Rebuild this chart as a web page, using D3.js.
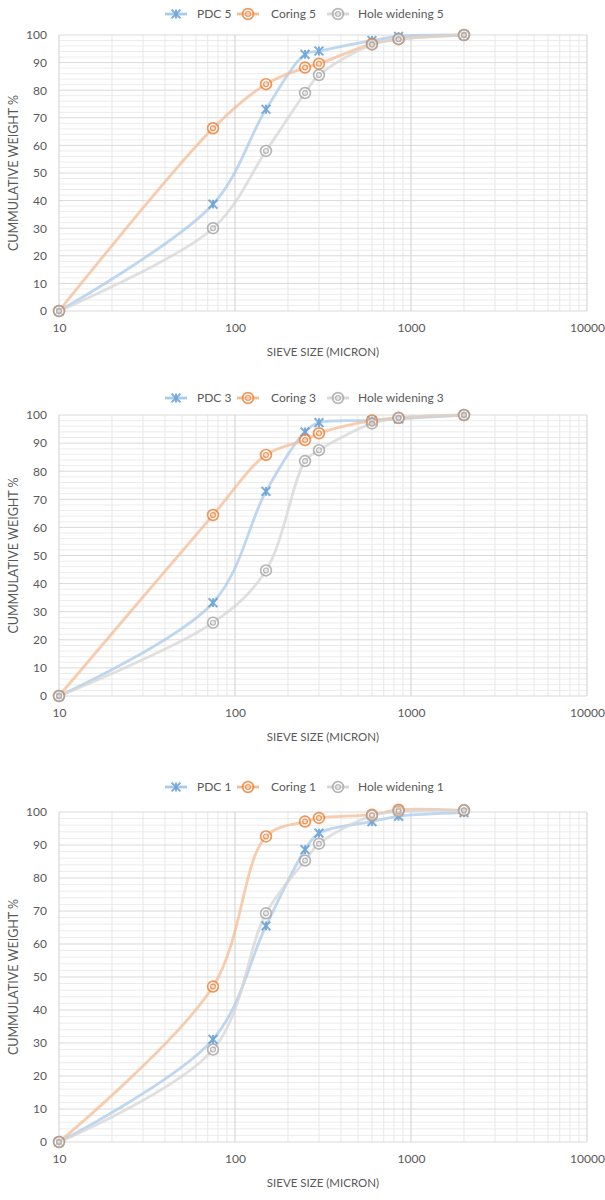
<!DOCTYPE html>
<html>
<head>
<meta charset="utf-8">
<script src="https://cdn.jsdelivr.net/npm/d3@7"></script>
<style>
  html, body { margin: 0; padding: 0; background: #ffffff; }
  svg { display: block; }
</style>
</head>
<body>
<svg id="chart" width="605" height="1200"></svg>
<script>
// ---- data ----
const sieveSizes = [10, 75, 150, 250, 300, 600, 850, 2000];
const xTickValues = [10, 100, 1000, 10000];
const yTickValues = [0, 10, 20, 30, 40, 50, 60, 70, 80, 90, 100];

const pdc5 = [0, 38.7, 73.1, 93.0, 94.2, 98.0, 99.5, 100];
const coring5 = [0, 66.2, 82.2, 88.2, 89.6, 96.8, 98.5, 100];
const hole5 = [0, 30.0, 58.0, 79.0, 85.5, 96.5, 98.5, 100];

const pdc3 = [0, 33.2, 72.8, 94.0, 97.3, 98.0, 98.6, 100];
const coring3 = [0, 64.4, 85.8, 91.1, 93.5, 98.0, 99.0, 100];
const hole3 = [0, 26.1, 44.7, 83.6, 87.5, 97.0, 98.9, 100];

const pdc1 = [0, 31.1, 65.5, 88.6, 93.6, 97.1, 98.7, 99.8];
const coring1 = [0, 47.1, 92.6, 97.1, 98.2, 99.2, 100.7, 100.5];
const hole1 = [0, 28.0, 69.3, 85.3, 90.4, 98.9, 100.2, 100.5];

const seriesNames = ["PDC", "Coring", "Hole widening"];
const xTitle = "SIEVE SIZE (MICRON)";
const yTitle = "CUMMULATIVE WEIGHT %";

// ---- layout ----
const charts = [
  { suffix: "5", values: [pdc5, coring5, hole5], legendY: 14, top: 35, bottom: 311 },
  { suffix: "3", values: [pdc3, coring3, hole3], legendY: 398, top: 415, bottom: 696 },
  { suffix: "1", values: [pdc1, coring1, hole1], legendY: 787, top: 812, bottom: 1142 }
];
const left = 59, right = 587;
const styles = [
  { line: "#a9cbea", marker: "#5b9bd5", type: "star" },
  { line: "#f6bc94", marker: "#ed7d31", type: "ring" },
  { line: "#d6d6d6", marker: "#a5a5a5", type: "ring" }
];
const font = "Lato, 'Open Sans', sans-serif";
const textColor = "#595959";

const svg = d3.select("#chart");

function drawMarker(g, type, color, cx, cy) {
  const m = g.append("g").attr("transform", `translate(${cx},${cy})`);
  if (type === "star") {
    const s = 4.4;
    m.append("path")
      .attr("d", `M${-s},${-s}L${s},${s}M${-s},${s}L${s},${-s}M0,${-s}L0,${s}`)
      .attr("stroke", color).attr("stroke-width", 2).attr("fill", "none")
      .attr("opacity", 0.8);
  } else {
    m.append("circle").attr("r", 5.4).attr("fill", "#fff").attr("fill-opacity", 0.5)
      .attr("stroke", color).attr("stroke-width", 1.7).attr("opacity", 0.8);
    m.append("circle").attr("r", 2.4).attr("fill", "none")
      .attr("stroke", color).attr("stroke-width", 1.2).attr("opacity", 0.8);
  }
}

charts.forEach(cfg => {
  const x = d3.scaleLog().domain([10, 10000]).range([left, right]);
  const y = d3.scaleLinear().domain([0, 100]).range([cfg.bottom, cfg.top]);
  const g = svg.append("g");

  // minor horizontal grid
  const minorY = d3.range(2, 100, 2).filter(v => v % 10 !== 0);
  g.selectAll(null).data(minorY).enter().append("line")
    .attr("x1", left).attr("x2", right)
    .attr("y1", d => y(d)).attr("y2", d => y(d))
    .attr("stroke", "#ececec").attr("stroke-width", 1);
  // minor vertical grid
  const minorX = [];
  [10, 100, 1000].forEach(dec => { for (let k = 2; k <= 9; k++) minorX.push(dec * k); });
  g.selectAll(null).data(minorX).enter().append("line")
    .attr("x1", d => x(d)).attr("x2", d => x(d))
    .attr("y1", cfg.top).attr("y2", cfg.bottom)
    .attr("stroke", "#e8e8e8").attr("stroke-width", 1);
  // major horizontal grid
  g.selectAll(null).data(yTickValues).enter().append("line")
    .attr("x1", left).attr("x2", right)
    .attr("y1", d => y(d)).attr("y2", d => y(d))
    .attr("stroke", "#d9d9d9").attr("stroke-width", 1);
  // major vertical grid
  g.selectAll(null).data(xTickValues).enter().append("line")
    .attr("x1", d => x(d)).attr("x2", d => x(d))
    .attr("y1", cfg.top).attr("y2", cfg.bottom)
    .attr("stroke", "#d0d0d0").attr("stroke-width", 1);

  // axes (labels only)
  const xAxis = d3.axisBottom(x).tickValues(xTickValues).tickFormat(d3.format("d")).tickSize(0).tickPadding(12);
  const xa = g.append("g").attr("transform", `translate(0,${cfg.bottom})`).call(xAxis);
  xa.select(".domain").remove();
  xa.selectAll("text").attr("font-family", font).attr("font-size", 12).attr("fill", textColor);

  const yAxis = d3.axisLeft(y).tickValues(yTickValues).tickSize(0).tickPadding(12);
  const ya = g.append("g").attr("transform", `translate(${left},0)`).call(yAxis);
  ya.select(".domain").remove();
  ya.selectAll("text").attr("font-family", font).attr("font-size", 12).attr("fill", textColor);

  // titles
  g.append("text").attr("x", (left + right) / 2).attr("y", cfg.bottom + 45)
    .attr("text-anchor", "middle").attr("font-family", font).attr("font-size", 11.5)
    .attr("fill", textColor).text(xTitle);
  g.append("text")
    .attr("transform", `translate(18,${(cfg.top + cfg.bottom) / 2}) rotate(-90)`)
    .attr("text-anchor", "middle").attr("font-family", font).attr("font-size", 12.5)
    .attr("fill", textColor).text(yTitle);

  // lines
  const line = d3.line()
    .x((d, i) => x(sieveSizes[i]))
    .y(d => y(d))
    .curve(d3.curveCatmullRom.alpha(0.5));
  cfg.values.forEach((vals, si) => {
    g.append("path").datum(vals).attr("d", line)
      .attr("fill", "none").attr("stroke", styles[si].line)
      .attr("stroke-width", 2.8).attr("stroke-opacity", 0.75);
  });
  // markers
  cfg.values.forEach((vals, si) => {
    vals.forEach((v, i) => drawMarker(g, styles[si].type, styles[si].marker, x(sieveSizes[i]), y(v)));
  });

  // legend
  const legendItems = [
    { x1: 165, tx: 197 },
    { x1: 237, tx: 271 },
    { x1: 327, tx: 358 }
  ];
  seriesNames.forEach((name, si) => {
    const it = legendItems[si];
    const lg = g.append("g");
    lg.append("line").attr("x1", it.x1).attr("x2", it.x1 + 22)
      .attr("y1", cfg.legendY).attr("y2", cfg.legendY)
      .attr("stroke", styles[si].line).attr("stroke-width", 2.8);
    drawMarker(lg, styles[si].type, styles[si].marker, it.x1 + 11, cfg.legendY);
    lg.append("text").attr("x", it.tx).attr("y", cfg.legendY).attr("dy", "0.35em")
      .attr("font-family", font).attr("font-size", 12).attr("fill", textColor)
      .text(name + " " + cfg.suffix);
  });
});
</script>
</body>
</html>
